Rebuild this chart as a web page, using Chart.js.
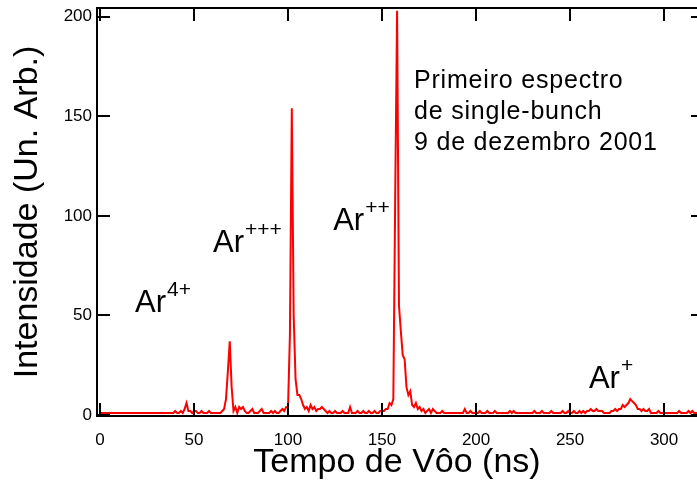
<!DOCTYPE html>
<html>
<head>
<meta charset="utf-8">
<script src="https://cdn.jsdelivr.net/npm/chart.js@4"></script>
<style>
  html, body { margin: 0; padding: 0; background: #fff; }
  #wrap { width: 697px; height: 483px; position: relative; }
</style>
</head>
<body>
<div id="wrap"><canvas id="tof"></canvas></div>
<script>
// time of flight, 1 ns per channel (0 .. 318 ns)
const intensity = [
  1, 1, 1, 1, 1, 1, 1, 1, 1, 1,
  1, 1, 1, 1, 1, 1, 1, 1, 1, 1,
  1, 1, 1, 1, 1, 1, 1, 1, 1, 1,
  1, 1, 1, 1, 1, 1, 1, 1, 1, 1,
  2, 1, 1, 2, 1, 3, 6, 2, 2, 1,
  2, 2, 1, 1, 2, 1, 1, 1, 2, 1,
  1, 1, 1, 1, 1, 2, 3, 8, 22, 37,
  14, 2, 4, 1, 4, 3, 4, 2, 1, 1,
  2, 3, 1, 1, 1, 2, 3, 1, 1, 1,
  1, 2, 1, 2, 1, 1, 2, 3, 2, 4,
  4, 40, 154, 50, 18, 10, 10, 8, 5, 3,
  4, 2, 5, 3, 4, 2, 3, 3, 4, 3,
  2, 1, 2, 1, 1, 2, 1, 1, 1, 2,
  1, 1, 1, 4, 1, 1, 1, 2, 1, 1,
  2, 1, 1, 2, 1, 1, 2, 1, 1, 2,
  2, 2, 3, 3, 6, 5, 8, 110, 203, 55,
  42, 30, 28, 14, 10, 12, 5, 4, 6, 3,
  4, 2, 3, 1, 2, 3, 1, 3, 2, 1,
  1, 1, 2, 1, 1, 1, 1, 1, 1, 1,
  1, 1, 1, 1, 3, 1, 1, 2, 1, 1,
  1, 1, 2, 1, 1, 1, 2, 1, 1, 1,
  2, 1, 1, 1, 1, 1, 1, 1, 2, 1,
  2, 1, 1, 1, 1, 1, 1, 1, 1, 1,
  1, 2, 1, 1, 1, 2, 1, 1, 1, 1,
  2, 1, 1, 1, 1, 1, 2, 1, 1, 2,
  1, 1, 2, 1, 1, 2, 1, 2, 1, 2,
  2, 3, 2, 2, 3, 2, 2, 2, 1, 1,
  1, 1, 2, 2, 3, 2, 3, 3, 5, 4,
  5, 6, 8, 7, 6, 5, 3, 3, 2, 3,
  2, 2, 3, 1, 1, 1, 1, 2, 1, 1,
  1, 1, 1, 1, 1, 1, 1, 1, 2, 1,
  1, 1, 1, 2, 1, 2, 1, 1, 1
];
const timeNs = intensity.map((_, i) => i);

const xTicks = [0, 50, 100, 150, 200, 250, 300];
const yTicks = [0, 50, 100, 150, 200];

// peak labels: [text, superscript, x (ns), y (intensity) of the baseline]
const peakLabels = [
  ["Ar", "4+", 18.6, 51.5],
  ["Ar", "+++", 60.1, 82],
  ["Ar", "++", 124, 93],
  ["Ar", "+", 260, 13.6]
];
const noteLines = ["Primeiro espectro", "de single-bunch", "9 de dezembro 2001"];

const FONT = "'Liberation Sans', Arial, Helvetica, sans-serif";
const TICK_LEN = 13;

// frame on left/top/bottom plus inward tick marks on all four sides
const framePlugin = {
  id: "frame",
  afterDatasetsDraw(chart) {
    const { ctx, chartArea: a, scales: { x, y } } = chart;
    ctx.save();
    ctx.strokeStyle = "#000";
    ctx.lineWidth = 2;
    ctx.beginPath();
    ctx.moveTo(a.left, a.top);
    ctx.lineTo(a.left, a.bottom);
    ctx.moveTo(a.left - 1, a.top);
    ctx.lineTo(a.right, a.top);
    ctx.moveTo(a.left - 1, a.bottom);
    ctx.lineTo(a.right, a.bottom);
    xTicks.forEach((v) => {
      const px = Math.round(x.getPixelForValue(v));
      ctx.moveTo(px, a.bottom);
      ctx.lineTo(px, a.bottom - TICK_LEN);
      ctx.moveTo(px, a.top);
      ctx.lineTo(px, a.top + TICK_LEN);
    });
    yTicks.forEach((v) => {
      const py = Math.round(y.getPixelForValue(v));
      ctx.moveTo(a.left, py);
      ctx.lineTo(a.left + TICK_LEN, py);
      ctx.moveTo(a.right - 6, py);
      ctx.lineTo(a.right, py);
    });
    ctx.stroke();
    ctx.restore();
  },
};

const labelPlugin = {
  id: "labels",
  afterDraw(chart) {
    const { ctx, scales: { x, y } } = chart;
    ctx.save();
    ctx.fillStyle = "#000";
    ctx.textBaseline = "alphabetic";
    peakLabels.forEach(([main, sup, vx, vy]) => {
      const px = x.getPixelForValue(vx);
      const py = y.getPixelForValue(vy);
      ctx.font = "31px " + FONT;
      ctx.fillText(main, px, py);
      const w = ctx.measureText(main).width;
      ctx.font = "21px " + FONT;
      ctx.fillText(sup, px + w + 1, py - 16);
    });
    ctx.font = "25px " + FONT;
    ctx.letterSpacing = "0.8px";
    const nx = x.getPixelForValue(167);
    noteLines.forEach((line, i) => {
      ctx.fillText(line, nx, y.getPixelForValue(164.3) + i * 31);
    });
    ctx.restore();
  },
};

new Chart(document.getElementById("tof"), {
  type: "line",
  data: {
    labels: timeNs,
    datasets: [
      {
        data: timeNs.map((t, i) => ({ x: t, y: intensity[i] })),
        borderColor: "#ff0000",
        borderWidth: 2,
        pointRadius: 0,
        tension: 0,
        fill: false,
      },
    ],
  },
  options: {
    responsive: true,
    maintainAspectRatio: false,
    animation: false,
    layout: { padding: { left: 0, right: 0, top: 8, bottom: 0 } },
    plugins: { legend: { display: false }, tooltip: { enabled: false } },
    scales: {
      x: {
        type: "linear",
        min: -1.6,
        max: 317.5,
        afterBuildTicks: (s) => { s.ticks = xTicks.map((v) => ({ value: v })); },
        afterFit: (s) => {
          s.height = 67;
          s.paddingLeft = 0;
          s.paddingRight = 0;
        },
        grid: { display: false, drawTicks: false },
        border: { display: false },
        ticks: { color: "#000", padding: 14, font: { family: FONT, size: 17 } },
        title: {
          display: true,
          text: "Tempo de Vôo (ns)",
          color: "#000",
          padding: 0,
          font: { family: FONT, size: 34 },
        },
      },
      y: {
        min: -0.5,
        max: 204.4,
        afterBuildTicks: (s) => { s.ticks = yTicks.map((v) => ({ value: v })); },
        afterFit: (s) => {
          s.width = 97;
          s.paddingTop = 0;
          s.paddingBottom = 0;
        },
        grid: { display: false, drawTicks: false },
        border: { display: false },
        ticks: { color: "#000", padding: 5, font: { family: FONT, size: 17 } },
        title: {
          display: true,
          text: "Intensidade (Un. Arb.)",
          color: "#000",
          padding: { top: 7, bottom: 0 },
          font: { family: FONT, size: 34 },
        },
      },
    },
  },
  plugins: [framePlugin, labelPlugin],
});
</script>
</body>
</html>
